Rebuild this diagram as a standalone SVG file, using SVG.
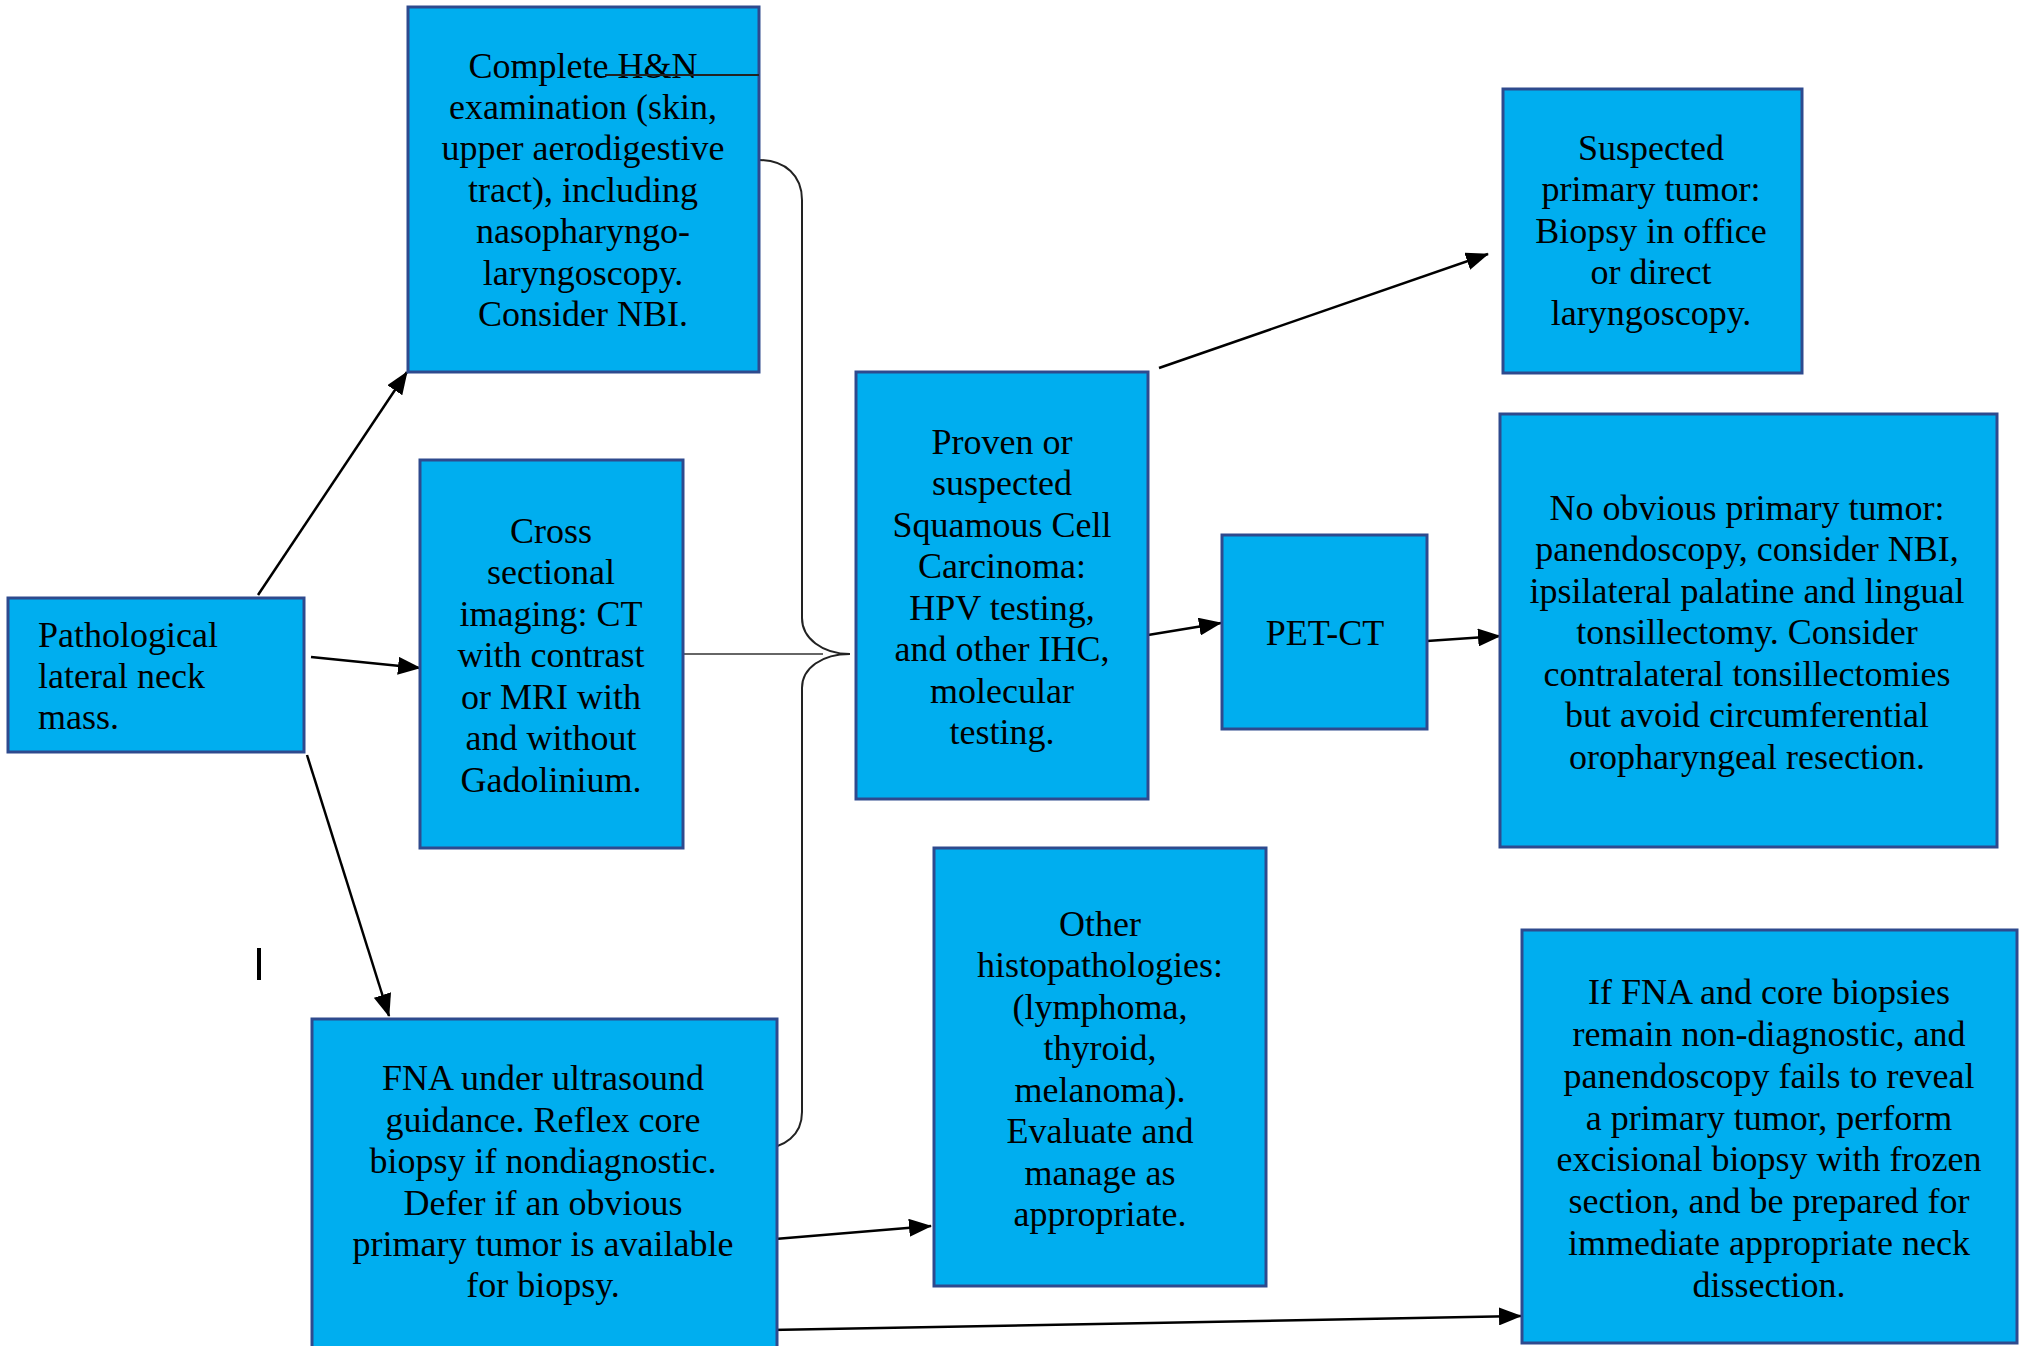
<svg xmlns="http://www.w3.org/2000/svg" width="2031" height="1346" viewBox="0 0 2031 1346">
<style>
.box{fill:#00AEEF;stroke:#2E4A8E;stroke-width:3}
.t{font-family:"Liberation Serif","Times New Roman",serif;font-size:36px;fill:#000}
.c{text-anchor:middle}
.arr{stroke:#000;stroke-width:2.5;fill:none;marker-end:url(#ah)}
.ln{stroke:#222;stroke-width:2;fill:none}
</style>
<defs>
<marker id="ah" markerUnits="userSpaceOnUse" markerWidth="24" markerHeight="18" refX="22" refY="9" orient="auto">
<path d="M0,0 L23,9 L0,18 z" fill="#000"/>
</marker>
</defs>
<rect width="2031" height="1346" fill="#fff"/>

<g id="connectors">
<line class="arr" x1="258" y1="595" x2="407" y2="372"/>
<line class="arr" x1="311" y1="657" x2="420" y2="668"/>
<line class="arr" x1="307" y1="755" x2="389" y2="1016"/>
<line class="arr" x1="1159" y1="368" x2="1488" y2="254"/>
<line class="arr" x1="1148" y1="635" x2="1221" y2="623"/>
<line class="arr" x1="1427" y1="641" x2="1500" y2="636"/>
<line class="arr" x1="775" y1="1239" x2="931" y2="1226"/>
<line class="arr" x1="770" y1="1330" x2="1521" y2="1316"/>
<path class="ln" d="M758,160 C786,160 802,176 802,200 L802,618 C802,638 822,654 850,654 C822,654 802,668 802,688 L802,1112 C802,1134 786,1149 757,1149"/>
<line x1="683" y1="654" x2="823" y2="654" stroke="#666" stroke-width="2"/>
<line x1="259" y1="948" x2="259" y2="980" stroke="#000" stroke-width="4"/>
</g>

<g id="n_path">
<rect class="box" x="8" y="598" width="296" height="154"/>
<text class="t" x="38" y="647">Pathological</text>
<text class="t" x="38" y="688">lateral neck</text>
<text class="t" x="38" y="729">mass.</text>
</g>

<g id="n_hn">
<rect class="box" x="408" y="7" width="351" height="365"/>
<text class="t c" x="583" y="78">Complete H&amp;N</text>
<text class="t c" x="583" y="119">examination (skin,</text>
<text class="t c" x="583" y="160">upper aerodigestive</text>
<text class="t c" x="583" y="202">tract), including</text>
<text class="t c" x="583" y="243">nasopharyngo-</text>
<text class="t c" x="583" y="285">laryngoscopy.</text>
<text class="t c" x="583" y="326">Consider NBI.</text>
<line x1="605" y1="75" x2="759" y2="75" stroke="#222" stroke-width="2"/>
</g>

<g id="n_cross">
<rect class="box" x="420" y="460" width="263" height="388"/>
<text class="t c" x="551" y="543">Cross</text>
<text class="t c" x="551" y="584">sectional</text>
<text class="t c" x="551" y="626">imaging: CT</text>
<text class="t c" x="551" y="667">with contrast</text>
<text class="t c" x="551" y="709">or MRI with</text>
<text class="t c" x="551" y="750">and without</text>
<text class="t c" x="551" y="792">Gadolinium.</text>
</g>

<g id="n_fna">
<rect class="box" x="312" y="1019" width="465" height="340"/>
<text class="t c" x="543" y="1090">FNA under ultrasound</text>
<text class="t c" x="543" y="1132">guidance. Reflex core</text>
<text class="t c" x="543" y="1173">biopsy if nondiagnostic.</text>
<text class="t c" x="543" y="1215">Defer if an obvious</text>
<text class="t c" x="543" y="1256">primary tumor is available</text>
<text class="t c" x="543" y="1297">for biopsy.</text>
</g>

<g id="n_scc">
<rect class="box" x="856" y="372" width="292" height="427"/>
<text class="t c" x="1002" y="454">Proven or</text>
<text class="t c" x="1002" y="495">suspected</text>
<text class="t c" x="1002" y="537">Squamous Cell</text>
<text class="t c" x="1002" y="578">Carcinoma:</text>
<text class="t c" x="1002" y="620">HPV testing,</text>
<text class="t c" x="1002" y="661">and other IHC,</text>
<text class="t c" x="1002" y="703">molecular</text>
<text class="t c" x="1002" y="744">testing.</text>
</g>

<g id="n_suspected">
<rect class="box" x="1503" y="89" width="299" height="284"/>
<text class="t c" x="1651" y="160">Suspected</text>
<text class="t c" x="1651" y="201">primary tumor:</text>
<text class="t c" x="1651" y="243">Biopsy in office</text>
<text class="t c" x="1651" y="284">or direct</text>
<text class="t c" x="1651" y="325">laryngoscopy.</text>
</g>

<g id="n_pet">
<rect class="box" x="1222" y="535" width="205" height="194"/>
<text class="t c" x="1325" y="645">PET-CT</text>
</g>

<g id="n_noobv">
<rect class="box" x="1500" y="414" width="497" height="433"/>
<text class="t c" x="1747" y="520">No obvious primary tumor:</text>
<text class="t c" x="1747" y="561">panendoscopy, consider NBI,</text>
<text class="t c" x="1747" y="603">ipsilateral palatine and lingual</text>
<text class="t c" x="1747" y="644">tonsillectomy. Consider</text>
<text class="t c" x="1747" y="686">contralateral tonsillectomies</text>
<text class="t c" x="1747" y="727">but avoid circumferential</text>
<text class="t c" x="1747" y="769">oropharyngeal resection.</text>
</g>

<g id="n_other">
<rect class="box" x="934" y="848" width="332" height="438"/>
<text class="t c" x="1100" y="936">Other</text>
<text class="t c" x="1100" y="977">histopathologies:</text>
<text class="t c" x="1100" y="1019">(lymphoma,</text>
<text class="t c" x="1100" y="1060">thyroid,</text>
<text class="t c" x="1100" y="1102">melanoma).</text>
<text class="t c" x="1100" y="1143">Evaluate and</text>
<text class="t c" x="1100" y="1185">manage as</text>
<text class="t c" x="1100" y="1226">appropriate.</text>
</g>

<g id="n_iffna">
<rect class="box" x="1522" y="930" width="495" height="413"/>
<text class="t c" x="1769" y="1004">If FNA and core biopsies</text>
<text class="t c" x="1769" y="1046">remain non-diagnostic, and</text>
<text class="t c" x="1769" y="1088">panendoscopy fails to reveal</text>
<text class="t c" x="1769" y="1130">a primary tumor, perform</text>
<text class="t c" x="1769" y="1171">excisional biopsy with frozen</text>
<text class="t c" x="1769" y="1213">section, and be prepared for</text>
<text class="t c" x="1769" y="1255">immediate appropriate neck</text>
<text class="t c" x="1769" y="1297">dissection.</text>
</g>
</svg>
